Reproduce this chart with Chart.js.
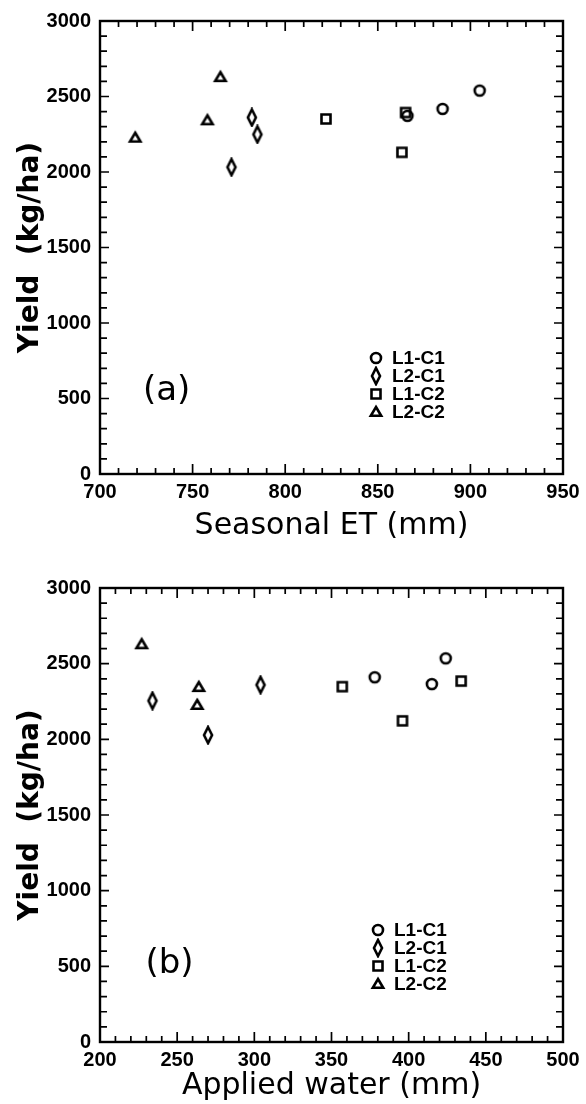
<!DOCTYPE html>
<html>
<head>
<meta charset="utf-8">
<script src="https://cdn.jsdelivr.net/npm/chart.js@4"></script>
<style>
  body { margin: 0; background: #fff; }
  .panel { width: 586px; height: 552px; }
  canvas { display: block; }
</style>
</head>
<body>
<div class="panel"><canvas id="chartA" width="586" height="552"></canvas></div>
<div class="panel"><canvas id="chartB" width="586" height="552"></canvas></div>
<script>
const seriesNames = ["L1-C1", "L2-C1", "L1-C2", "L2-C2"];

// (a) seasonal ET (mm) -> yield (kg/ha)
const etL1C1 = [866, 885, 905];
const yieldEtL1C1 = [2372, 2418, 2539];
const etL2C1 = [771, 782, 785];
const yieldEtL2C1 = [2032, 2361, 2249];
const etL1C2 = [822, 863, 865];
const yieldEtL1C2 = [2351, 2130, 2394];
const etL2C2 = [719, 758, 765];
const yieldEtL2C2 = [2227, 2342, 2628];

// (b) applied water (mm) -> yield (kg/ha)
const waterL1C1 = [378, 415, 424];
const yieldWaterL1C1 = [2410, 2365, 2535];
const waterL2C1 = [234, 270, 304];
const yieldWaterL2C1 = [2255, 2028, 2360];
const waterL1C2 = [357, 396, 434];
const yieldWaterL1C2 = [2348, 2122, 2385];
const waterL2C2 = [227, 263, 264];
const yieldWaterL2C2 = [2628, 2227, 2345];

const etTicks = [700, 750, 800, 850, 900, 950];
const waterTicks = [200, 250, 300, 350, 400, 450, 500];
const yieldTicks = [0, 500, 1000, 1500, 2000, 2500, 3000];

// open markers drawn once on small canvases
function makeMarker(shape) {
  const c = document.createElement("canvas");
  c.width = 18;
  c.height = 20;
  const g = c.getContext("2d");
  g.strokeStyle = "#000";
  g.lineWidth = 2.6;
  g.beginPath();
  if (shape == "circle") {
    g.arc(9, 10, 5, 0, Math.PI * 2);
  } else if (shape == "diamond") {
    g.moveTo(9, 2); g.lineTo(13, 10); g.lineTo(9, 18); g.lineTo(5, 10); g.closePath();
  } else if (shape == "square") {
    g.rect(4.5, 5.5, 9, 9);
  } else {
    g.moveTo(9, 5); g.lineTo(14.2, 13.8); g.lineTo(3.8, 13.8); g.closePath();
  }
  g.stroke();
  return c;
}
const markers = [makeMarker("circle"), makeMarker("diamond"), makeMarker("square"), makeMarker("triangle")];

const toPoints = (xs, ys) => xs.map((v, i) => ({ x: v, y: ys[i] }));

// box with inward ticks on all four sides
const frameTicks = {
  id: "frameTicks",
  afterDraw(chart, args, opts) {
    const { ctx, chartArea: a, scales: { x, y } } = chart;
    ctx.save();
    ctx.strokeStyle = "#000";
    ctx.lineWidth = 1.7;
    ctx.beginPath();
    for (let v = x.min; v <= x.max + 0.01; v += opts.xMinor) {
      const px = x.getPixelForValue(v);
      const len = (v - x.min) % opts.xMajor == 0 ? 10 : 6;
      ctx.moveTo(px, a.bottom); ctx.lineTo(px, a.bottom - len);
      ctx.moveTo(px, a.top); ctx.lineTo(px, a.top + len);
    }
    for (let v = y.min; v <= y.max + 0.01; v += opts.yMinor) {
      const py = y.getPixelForValue(v);
      const len = (v - y.min) % opts.yMajor == 0 ? 9 : 7;
      ctx.moveTo(a.left, py); ctx.lineTo(a.left + len, py);
      ctx.moveTo(a.right, py); ctx.lineTo(a.right - len, py);
    }
    ctx.stroke();
    ctx.lineWidth = 2.4;
    ctx.strokeRect(a.left, a.top, a.right - a.left, a.bottom - a.top);
    ctx.restore();
  }
};

// panel letter and symbol key inside the plot
const panelKey = {
  id: "panelKey",
  afterDraw(chart, args, opts) {
    const { ctx, chartArea: a, scales: { x, y } } = chart;
    ctx.save();
    ctx.fillStyle = "#000";
    ctx.textBaseline = "middle";
    ctx.textAlign = "center";
    ctx.font = "34px 'DejaVu Sans'";
    ctx.fillText(opts.letter, x.getPixelForValue(opts.letterX), y.getPixelForValue(opts.letterY));
    ctx.textAlign = "left";
    ctx.font = "bold 19px 'Liberation Sans'";
    chart.data.datasets.forEach((ds, i) => {
      const kx = a.left + opts.keyLeft;
      const ky = a.top + opts.keyTop + i * 18;
      const m = markers[i];
      ctx.drawImage(m, kx - m.width / 2, ky - m.height / 2);
      ctx.fillText(ds.label, kx + 16, ky + 1);
    });
    ctx.restore();
  }
};

function makeChart(id, xTitle, xMin, xMax, xTickVals, sets, layout) {
  const datasets = sets.map((pts, i) => ({
    label: seriesNames[i],
    data: pts,
    showLine: false,
    pointStyle: markers[i],
    pointRadius: 6
  }));
  return new Chart(document.getElementById(id), {
    type: "scatter",
    data: { datasets },
    plugins: [frameTicks, panelKey],
    options: {
      responsive: false,
      animation: false,
      events: [],
      layout: { padding: { top: layout.top, right: 23, left: 0, bottom: 0 } },
      plugins: {
        legend: { display: false },
        tooltip: { enabled: false },
        frameTicks: { xMinor: 10, xMajor: 50, yMinor: 100, yMajor: 500 },
        panelKey: layout.key
      },
      scales: {
        x: {
          type: "linear",
          min: xMin,
          max: xMax,
          afterFit: (s) => { s.height = layout.xHeight; },
          afterBuildTicks: (s) => { s.ticks = xTickVals.map((v) => ({ value: v })); },
          grid: { display: false, drawTicks: false },
          border: { display: false },
          ticks: {
            padding: 6,
            color: "#000",
            maxRotation: 0,
            callback: (v) => String(v),
            font: { family: "'Liberation Sans'", size: 20, weight: "bold" }
          },
          title: {
            display: true,
            text: xTitle,
            color: "#000",
            padding: { top: 0, bottom: layout.titlePad },
            font: { family: "'DejaVu Sans'", size: 30 }
          }
        },
        y: {
          type: "linear",
          min: 0,
          max: 3000,
          afterFit: (s) => { s.width = 100; },
          afterBuildTicks: (s) => { s.ticks = yieldTicks.map((v) => ({ value: v })); },
          grid: { display: false, drawTicks: false },
          border: { display: false },
          ticks: {
            padding: 9,
            color: "#000",
            callback: (v) => String(v),
            font: { family: "'Liberation Sans'", size: 20, weight: "bold" }
          },
          title: {
            display: true,
            text: "Yield  (kg/ha)",
            color: "#000",
            padding: { top: 14, bottom: 0 },
            font: { family: "'DejaVu Sans'", size: 28, weight: "bold" }
          }
        }
      }
    }
  });
}

makeChart("chartA", "Seasonal ET (mm)", 700, 950, etTicks, [
  toPoints(etL1C1, yieldEtL1C1),
  toPoints(etL2C1, yieldEtL2C1),
  toPoints(etL1C2, yieldEtL1C2),
  toPoints(etL2C2, yieldEtL2C2)
], {
  top: 16, xHeight: 78, titlePad: 8,
  key: { letter: "(a)", letterX: 736, letterY: 548, keyLeft: 276, keyTop: 337 }
});

makeChart("chartB", "Applied water (mm)", 200, 500, waterTicks, [
  toPoints(waterL1C1, yieldWaterL1C1),
  toPoints(waterL2C1, yieldWaterL2C1),
  toPoints(waterL1C2, yieldWaterL1C2),
  toPoints(waterL2C2, yieldWaterL2C2)
], {
  top: 36, xHeight: 62, titlePad: 0,
  key: { letter: "(b)", letterX: 245, letterY: 511, keyLeft: 278, keyTop: 342 }
});
</script>
</body>
</html>
